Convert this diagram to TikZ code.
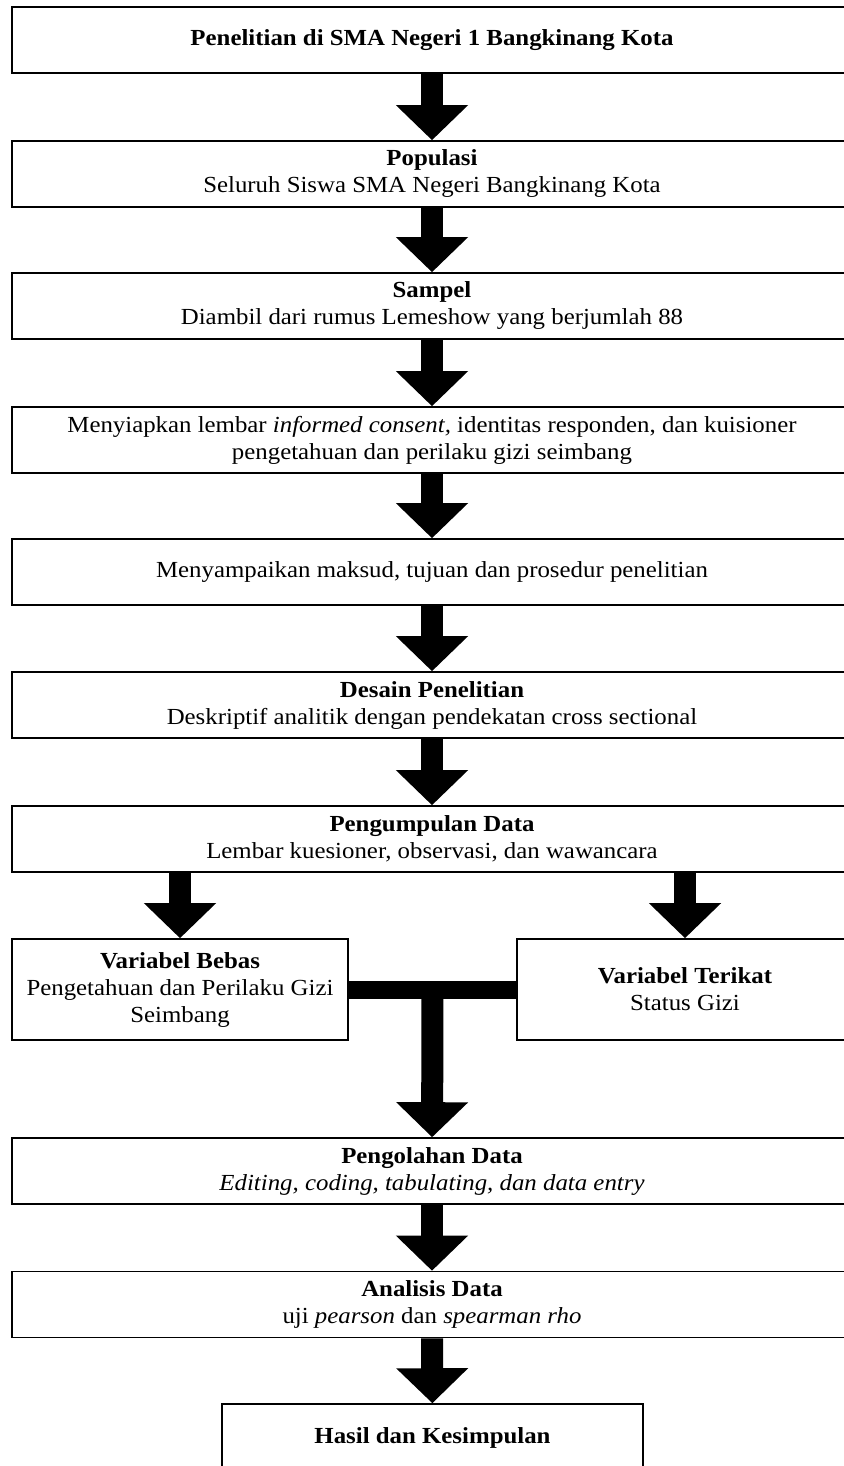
\documentclass[tikz,border=0pt]{standalone}
\usepackage{fontspec}
\setmainfont[FakeStretch=1.08]{Liberation Serif}
\usepackage{tikz}
\usetikzlibrary{positioning,calc,arrows.meta}

\begin{document}
\begin{tikzpicture}[x=1pt,y=-1pt,
	kotak/.style={draw,line width=1.6pt,minimum width=840pt,minimum height=66pt,inner sep=0pt,align=center,font=\fontsize{23}{27}\selectfont},
	kotakvar/.style={kotak,minimum width=336pt,minimum height=101pt},
	panah/.style={line width=22pt,-{Triangle[width=70pt,length=35pt]}}]
	\useasboundingbox (0,0) rectangle (843,1466);
	
	% alur utama
	\node[kotak] (lokasi)  at (432,40)  {\textbf{Penelitian di SMA Negeri 1 Bangkinang Kota}};
	\node[kotak] (populasi) at (432,174) {\textbf{Populasi}\\Seluruh Siswa SMA Negeri Bangkinang Kota};
	\node[kotak] (sampel)  at (432,306) {\textbf{Sampel}\\Diambil dari rumus Lemeshow yang berjumlah 88};
	\node[kotak] (siapkan) at (432,440) {Menyiapkan lembar \textit{informed consent,} identitas responden, dan kuisioner\\pengetahuan dan perilaku gizi seimbang};
	\node[kotak] (sampaikan) at (432,572) {Menyampaikan maksud, tujuan dan prosedur penelitian};
	\node[kotak] (desain)  at (432,705) {\textbf{Desain Penelitian}\\Deskriptif analitik dengan pendekatan cross sectional};
	\node[kotak] (kumpul)  at (432,839) {\textbf{Pengumpulan Data}\\Lembar kuesioner, observasi, dan wawancara};
	
	% variabel
	\node[kotakvar] (bebas)   at (180,989.5) {\textbf{Variabel Bebas}\\Pengetahuan dan Perilaku Gizi\\Seimbang};
	\node[kotakvar] (terikat) at (685,989.5) {\textbf{Variabel Terikat}\\Status Gizi};
	
	% pengolahan sampai hasil
	\node[kotak] (olah)    at (432,1171) {\textbf{Pengolahan Data}\\\textit{Editing, coding, tabulating, dan data entry}};
	\node[kotak] (analisis) at (432,1304.5) {\textbf{Analisis Data}\\uji \textit{pearson} dan \textit{spearman rho}};
	\node[kotak,minimum width=421pt,minimum height=68pt] (hasil) at (432.5,1438) {\textbf{Hasil dan Kesimpulan}};
	
	% panah lurus
	\draw[panah] (lokasi) -- (populasi);
	\draw[panah] (populasi) -- (sampel);
	\draw[panah] (sampel) -- (siapkan);
	\draw[panah] (siapkan) -- (sampaikan);
	\draw[panah] (sampaikan) -- (desain);
	\draw[panah] (desain) -- (kumpul);
	
	% cabang ke dua variabel
	\draw[panah] (bebas.north |- kumpul.south) -- (bebas.north);
	\draw[panah] (terikat.north |- kumpul.south) -- (terikat.north);
	
	% penghubung variabel
	\draw[line width=18pt] (bebas.east) -- (terikat.west);
	\coordinate (tengah) at ($(bebas.east)!0.5!(terikat.west)$);
	\draw[panah] (tengah) -- (olah);
	
	\draw[panah] (olah) -- (analisis);
	\draw[panah] (analisis) -- (hasil);
\end{tikzpicture}
\end{document}
